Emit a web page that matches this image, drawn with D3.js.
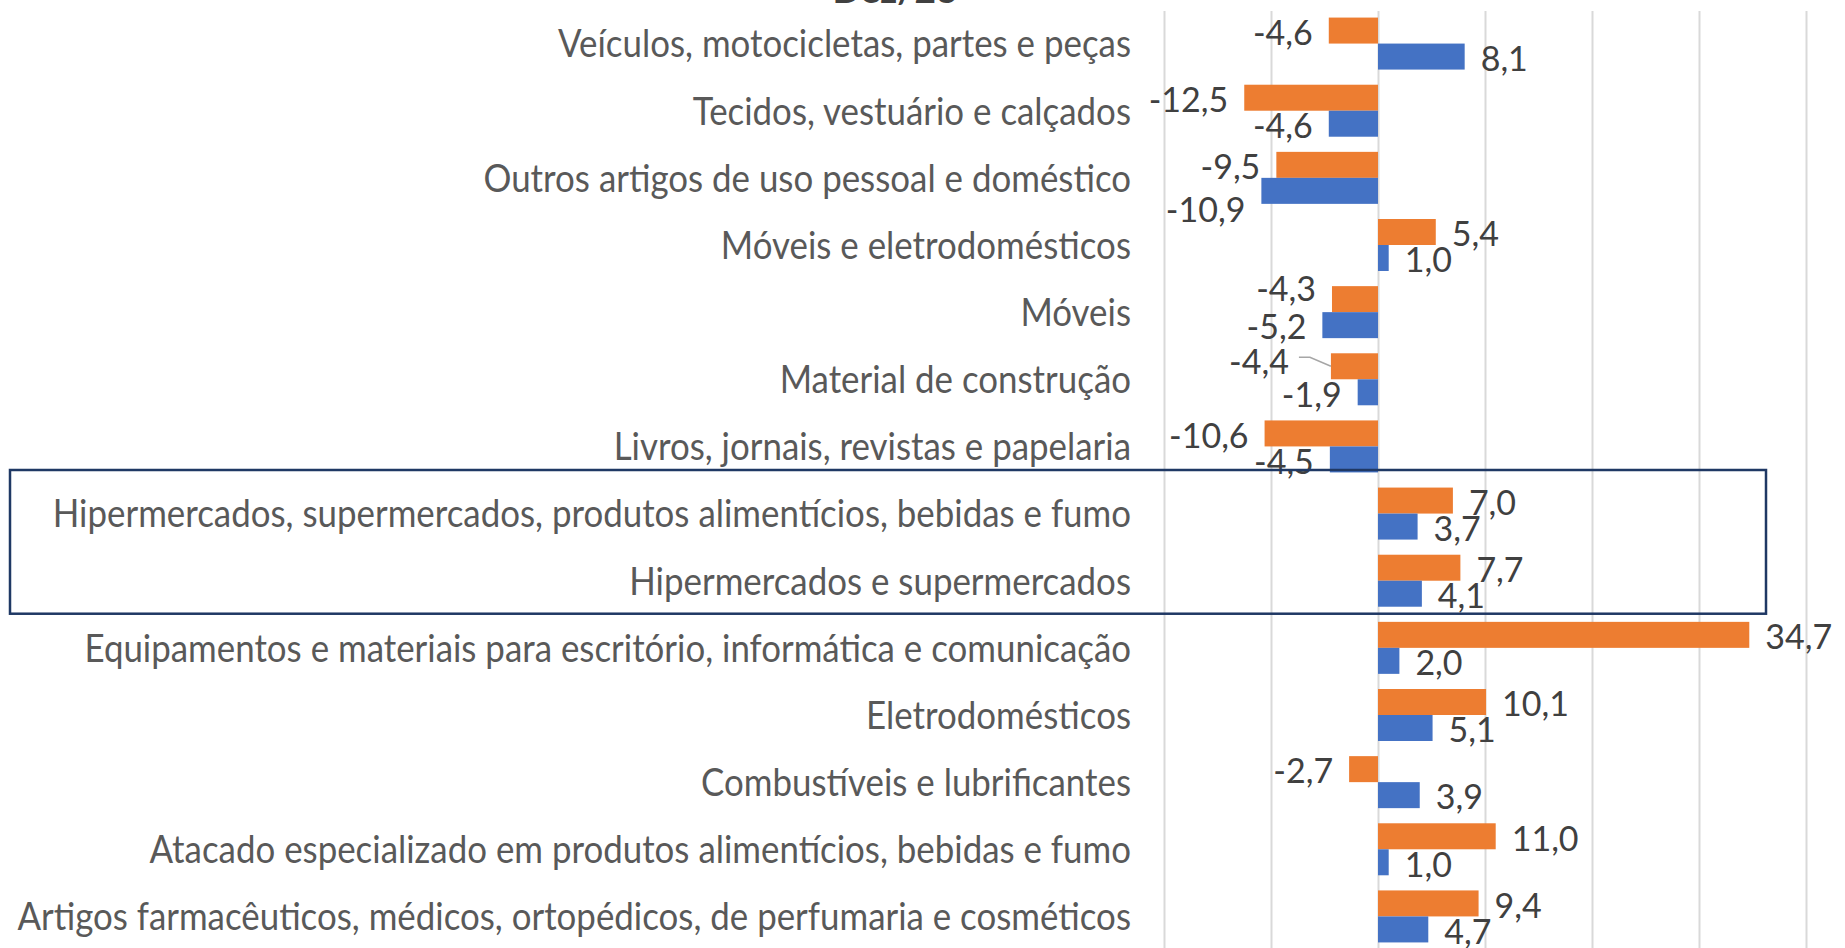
<!DOCTYPE html>
<html>
<head>
<meta charset="utf-8">
<script src="https://cdn.jsdelivr.net/npm/d3@7"></script>
<style>
  html, body { margin: 0; padding: 0; background: #ffffff; }
  svg { display: block; }
</style>
</head>
<body>
<div id="chart"></div>
<script>
/*****************************************************
 * DATA
 *****************************************************/
const categories = [
  "Veículos, motocicletas, partes e peças",
  "Tecidos, vestuário e calçados",
  "Outros artigos de uso pessoal e doméstico",
  "Móveis e eletrodomésticos",
  "Móveis",
  "Material de construção",
  "Livros, jornais, revistas e papelaria",
  "Hipermercados, supermercados, produtos alimentícios, bebidas e fumo",
  "Hipermercados e supermercados",
  "Equipamentos e materiais para escritório, informática e comunicação",
  "Eletrodomésticos",
  "Combustíveis e lubrificantes",
  "Atacado especializado em produtos alimentícios, bebidas e fumo",
  "Artigos farmacêuticos, médicos, ortopédicos, de perfumaria e cosméticos"
];

// orange series (top bar of each pair)
const orangeValues = [-4.6, -12.5, -9.5, 5.4, -4.3, -4.4, -10.6, 7.0, 7.7, 34.7, 10.1, -2.7, 11.0, 9.4];
// blue series (bottom bar of each pair)
const blueValues = [8.1, -4.6, -10.9, 1.0, -5.2, -1.9, -4.5, 3.7, 4.1, 2.0, 5.1, 3.9, 1.0, 4.7];

const seriesNames = ["orange", "blue"];
const xTicks = [-20, -10, 0, 10, 20, 30, 40];
const titleText = "Dez/23";

// categories framed by the annotation box
const boxedCategories = [
  "Hipermercados, supermercados, produtos alimentícios, bebidas e fumo",
  "Hipermercados e supermercados"
];

/*****************************************************
 * LAYOUT
 *****************************************************/
const width = 1845;
const height = 948;
const colors = { orange: "#ED7D31", blue: "#4472C4" };
const labelRight = 1131;        // right edge of category labels
const labelTargetWidth = 1114;  // width of the longest category label
const labelStretch = 1.1;       // original text is a bit taller than wide

// hand-moved data labels in the original (dx, dy)
const labelNudge = {
  "Móveis|orange": [0, -12],
  "Material de construção|orange": [-26, -7],
  "Outros artigos de uso pessoal e doméstico|blue": [0, 17]
};
const leaderLines = ["Material de construção|orange"];

const rows = categories.map((c, i) => ({
  category: c,
  orange: orangeValues[i],
  blue: blueValues[i]
}));

const locale = d3.formatLocale({ decimal: ",", thousands: ".", grouping: [3], currency: ["R$", ""], minus: "-" });
const fmt = locale.format(".1f");

const svg = d3.select("#chart")
  .append("svg")
  .attr("width", width)
  .attr("height", height)
  .style("font-family", "Lato, 'Open Sans', sans-serif");

svg.append("rect")
  .attr("width", width)
  .attr("height", height)
  .attr("fill", "#ffffff");

const x = d3.scaleLinear()
  .domain([xTicks[0], xTicks[xTicks.length - 1]])
  .range([1164, 1806]);

const y = d3.scaleBand()
  .domain(categories)
  .range([10, 950])
  .paddingInner(0.2255)
  .paddingOuter(0.11275);

const ySeries = d3.scaleBand()
  .domain(seriesNames)
  .range([0, y.bandwidth()]);

/*****************************************************
 * GRIDLINES
 *****************************************************/
const gridTop = 11;
const grid = svg.append("g")
  .attr("transform", `translate(0, ${height})`)
  .call(d3.axisBottom(x)
    .tickValues(xTicks)
    .tickSize(-(height - gridTop))
    .tickFormat(""));

grid.select(".domain").remove();
grid.selectAll(".tick line")
  .attr("stroke", "#D9D9D9")
  .attr("stroke-width", 2);

/*****************************************************
 * TITLE (cut off at the top)
 *****************************************************/
svg.append("text")
  .attr("x", 895)
  .attr("y", 3)
  .attr("text-anchor", "middle")
  .attr("font-size", "37px")
  .attr("font-weight", 700)
  .attr("fill", "#404040")
  .text(titleText);

/*****************************************************
 * BARS
 *****************************************************/
const groups = svg.append("g")
  .selectAll("g")
  .data(rows)
  .join("g")
  .attr("transform", d => `translate(0, ${y(d.category)})`);

groups.selectAll("rect")
  .data(d => seriesNames.map(s => ({ category: d.category, series: s, value: d[s] })))
  .join("rect")
  .attr("x", d => x(Math.min(0, d.value)))
  .attr("y", d => ySeries(d.series))
  .attr("width", d => Math.abs(x(d.value) - x(0)))
  .attr("height", ySeries.bandwidth())
  .attr("fill", d => colors[d.series]);

/*****************************************************
 * DATA LABELS
 *****************************************************/
const labelGap = 16;

function labelPos(d) {
  const nudge = labelNudge[d.category + "|" + d.series] || [0, 0];
  const lx = d.value >= 0 ? x(d.value) + labelGap : x(d.value) - labelGap;
  const ly = ySeries(d.series) + ySeries.bandwidth() / 2 + 2;
  return [lx + nudge[0], ly + nudge[1]];
}

groups.selectAll("text.value")
  .data(d => seriesNames.map(s => ({ category: d.category, series: s, value: d[s] })))
  .join("text")
  .attr("class", "value")
  .attr("x", d => labelPos(d)[0])
  .attr("y", d => labelPos(d)[1])
  .attr("dy", "0.36em")
  .attr("text-anchor", d => d.value >= 0 ? "start" : "end")
  .attr("font-size", "34px")
  .attr("fill", "#404040")
  .text(d => fmt(d.value));

// leader line for the moved label
groups.selectAll("path.leader")
  .data(d => seriesNames
    .map(s => ({ category: d.category, series: s, value: d[s] }))
    .filter(e => leaderLines.includes(e.category + "|" + e.series)))
  .join("path")
  .attr("class", "leader")
  .attr("fill", "none")
  .attr("stroke", "#A6A6A6")
  .attr("stroke-width", 1.5)
  .attr("d", d => {
    const [lx, ly] = labelPos(d);
    const barY = ySeries(d.series) + ySeries.bandwidth() / 2;
    return `M${lx + 10},${ly - 4}H${lx + 21}L${x(d.value)},${barY}`;
  });

/*****************************************************
 * CATEGORY LABELS
 *****************************************************/
const yAxis = svg.append("g")
  .attr("transform", `translate(${labelRight}, 0)`)
  .call(d3.axisLeft(y).tickSize(0).tickPadding(0));

yAxis.select(".domain").remove();

const catLabels = yAxis.selectAll(".tick text")
  .attr("font-family", "Lato, 'Open Sans', sans-serif")
  .attr("font-size", "34px")
  .attr("fill", "#595959")
  .attr("dy", "0.36em");

// fit the label size so the longest one spans the same width as the original
let maxLen = 0;
catLabels.each(function () { maxLen = Math.max(maxLen, this.getComputedTextLength()); });
if (maxLen > 0) catLabels.attr("font-size", (34 * labelTargetWidth / maxLen).toFixed(2) + "px");
catLabels.attr("transform", `scale(1, ${labelStretch})`);

/*****************************************************
 * ANNOTATION BOX
 *****************************************************/
const boxTop = y(boxedCategories[0]) - y.step() * y.paddingInner() / 2 - 10;
const boxBottom = y(boxedCategories[boxedCategories.length - 1]) + y.bandwidth() + 7;

svg.append("rect")
  .attr("x", 10)
  .attr("y", boxTop)
  .attr("width", 1766 - 10)
  .attr("height", boxBottom - boxTop)
  .attr("fill", "none")
  .attr("stroke", "#1F3864")
  .attr("stroke-width", 2.5);
</script>
</body>
</html>
